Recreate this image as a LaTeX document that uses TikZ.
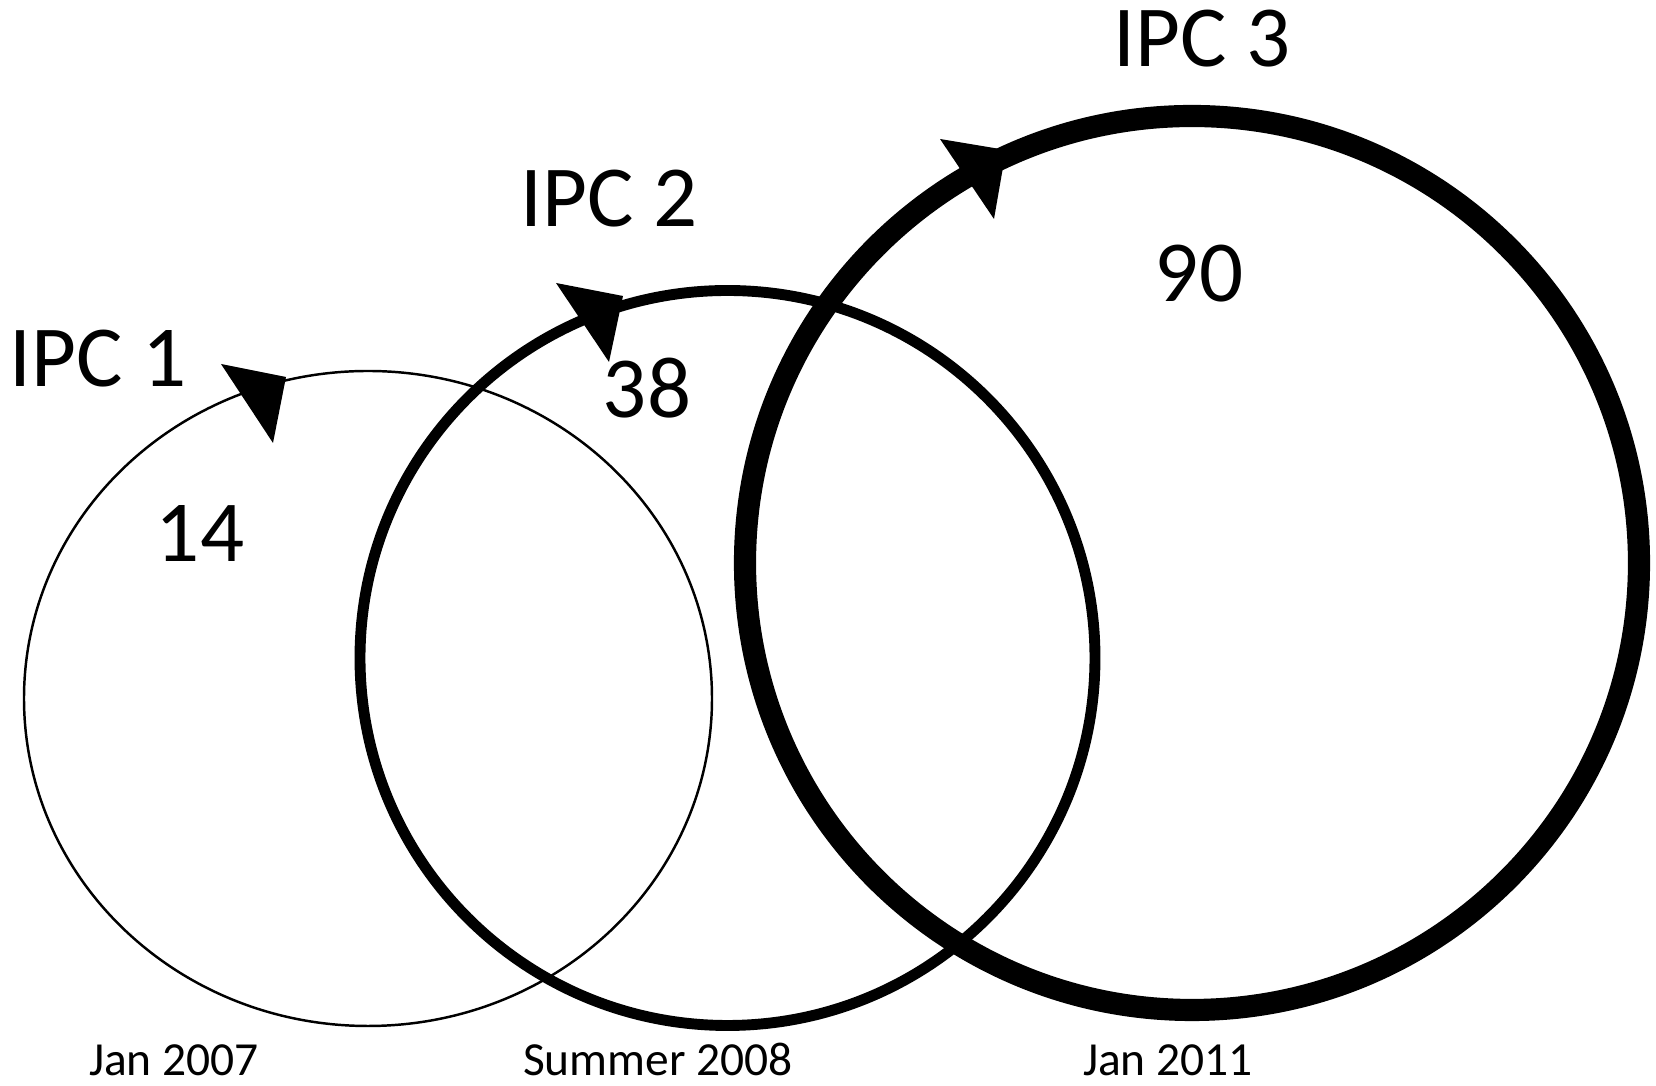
\documentclass[tikz,border=0pt]{standalone}
\usepackage{fontspec}
\setmainfont{Carlito}
\begin{document}
\begin{tikzpicture}[x=0.01cm, y=-0.01cm,
    big/.style={font=\fontsize{24.75}{30}\selectfont, inner sep=0pt, anchor=base},
    small/.style={font=\fontsize{13.5}{16}\selectfont, inner sep=0pt, anchor=base}]
      \useasboundingbox (0,0) rectangle (1656,1086);

      \draw[line width=0.7pt] (368,698.5) ellipse [x radius=344, y radius=327.5];
      \draw[line width=3.1pt] (727.5,658) circle [radius=367.5];
      \draw[line width=6.3pt] (1192,563) circle [radius=447];

      % arrow heads
      \fill (221,364) -- (286,377) -- (273,443) -- cycle;
      \fill (556,283) -- (623,296) -- (609,362) -- cycle;
      \fill (940,139) -- (1006,150) -- (994,219) -- cycle;

      \node[big] (ipc1) at (98,387) {IPC 1};
      \node[big] (ipc2) at (609,227) {IPC 2};
      \node[big] (ipc3) at (1202,67) {IPC 3};

      \node[big] (n1) at (200,562) {14};
      \node[big] (n2) at (647,418) {38};
      \node[big] (n3) at (1199,302) {90};

      \node[small] (d1) at (174,1076) {Jan 2007};
      \node[small] (d2) at (658,1076) {Summer 2008};
      \node[small] (d3) at (1168,1076) {Jan 2011};
    \end{tikzpicture}
\end{document}
